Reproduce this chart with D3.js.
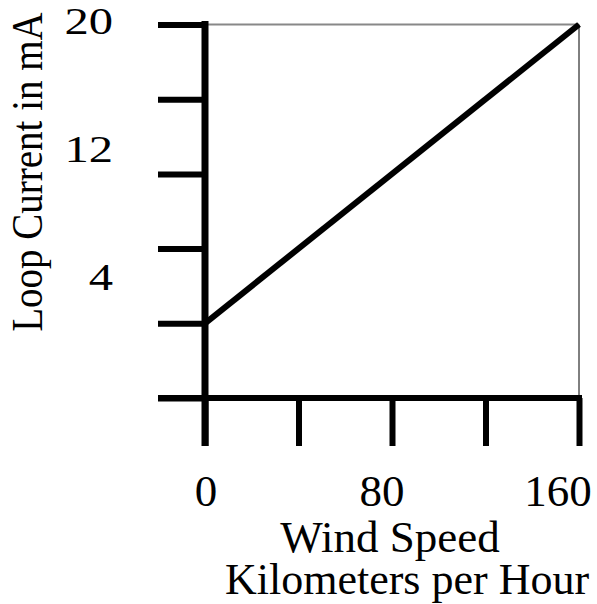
<!DOCTYPE html>
<html>
<head>
<meta charset="utf-8">
<script src="https://cdn.jsdelivr.net/npm/d3@7"></script>
<style>
  body { margin: 0; background: #fff; }
  text { font-family: "Liberation Serif", "Times New Roman", serif; fill: #000; }
</style>
</head>
<body>
<svg width="597" height="604"></svg>
<script>
// wind speed (km/h) -> loop current (mA)
const speeds = [0, 160];
const currents = [4, 20];
const xTicks = [0, 40, 80, 120, 160];
const yTicks = [0, 4, 8, 12, 16, 20];
const xLabels = [0, 80, 160];
const yLabels = [4, 12, 20];

const svg = d3.select("svg");

// scales for the plot area
const x = d3.scaleLinear().domain([0, 160]).range([205, 579]);
const y = d3.scaleLinear().domain([0, 20]).range([398, 24.5]);
// tick labels sit a bit off the ticks in the original drawing
const xLab = d3.scaleLinear().domain([0, 160]).range([206, 558]);
const yLab = d3.scaleLinear().domain([0, 20]).range([354, 34]);

// thin frame on top and right
svg.append("line")
    .attr("x1", x(0)).attr("x2", x(160))
    .attr("y1", y(20)).attr("y2", y(20))
    .attr("stroke", "#888").attr("stroke-width", 2);
svg.append("line")
    .attr("x1", x(160)).attr("x2", x(160))
    .attr("y1", y(20)).attr("y2", y(0))
    .attr("stroke", "#000").attr("stroke-width", 1);

// ticks drawn through d3 axes, no labels
const yAxis = svg.append("g")
    .attr("transform", `translate(${x(0)},0)`)
    .call(d3.axisLeft(y).tickValues(yTicks).tickSize(47).tickSizeOuter(0).tickFormat(""));
const xAxis = svg.append("g")
    .attr("transform", `translate(0,${y(0)})`)
    .call(d3.axisBottom(x).tickValues(xTicks).tickSize(48).tickSizeOuter(0).tickFormat(""));

[yAxis, xAxis].forEach(a => {
    a.select(".domain").remove();
    a.selectAll(".tick line").attr("stroke", "#000").attr("stroke-width", 6);
});

// heavy spines, running past the corner
svg.append("line")
    .attr("x1", x(0)).attr("x2", x(0))
    .attr("y1", y(20) - 3.5).attr("y2", y(0) + 48)
    .attr("stroke", "#000").attr("stroke-width", 7);
svg.append("line")
    .attr("x1", x(0) - 47).attr("x2", x(160) + 3)
    .attr("y1", y(0)).attr("y2", y(0))
    .attr("stroke", "#000").attr("stroke-width", 6);

// the transfer line
svg.append("path")
    .datum(speeds.map((s, i) => [s, currents[i]]))
    .attr("d", d3.line().x(d => x(d[0])).y(d => y(d[1])))
    .attr("fill", "none")
    .attr("stroke", "#000")
    .attr("stroke-width", 6);

// tick labels (the y ones are drawn wider than tall in the original)
svg.selectAll(".ylab").data(yLabels).enter().append("text")
    .attr("class", "ylab")
    .attr("transform", d => `translate(113,${yLab(d)}) scale(1.28,1)`)
    .attr("text-anchor", "end")
    .style("font-size", "38px")
    .text(d => d);

svg.selectAll(".xlab").data(xLabels).enter().append("text")
    .attr("class", "xlab")
    .attr("x", d => xLab(d))
    .attr("y", 506)
    .attr("text-anchor", "middle")
    .style("font-size", "45px")
    .text(d => d);

// axis titles
svg.append("text")
    .attr("transform", "translate(42,172) rotate(-90) scale(1,1.15)")
    .attr("text-anchor", "middle")
    .style("font-size", "39px")
    .text("Loop Current in mA");

svg.append("text")
    .attr("x", 390).attr("y", 552)
    .attr("text-anchor", "middle")
    .style("font-size", "45px")
    .text("Wind Speed");

svg.append("text")
    .attr("x", 407).attr("y", 594)
    .attr("text-anchor", "middle")
    .style("font-size", "44px")
    .text("Kilometers per Hour");
</script>
</body>
</html>
